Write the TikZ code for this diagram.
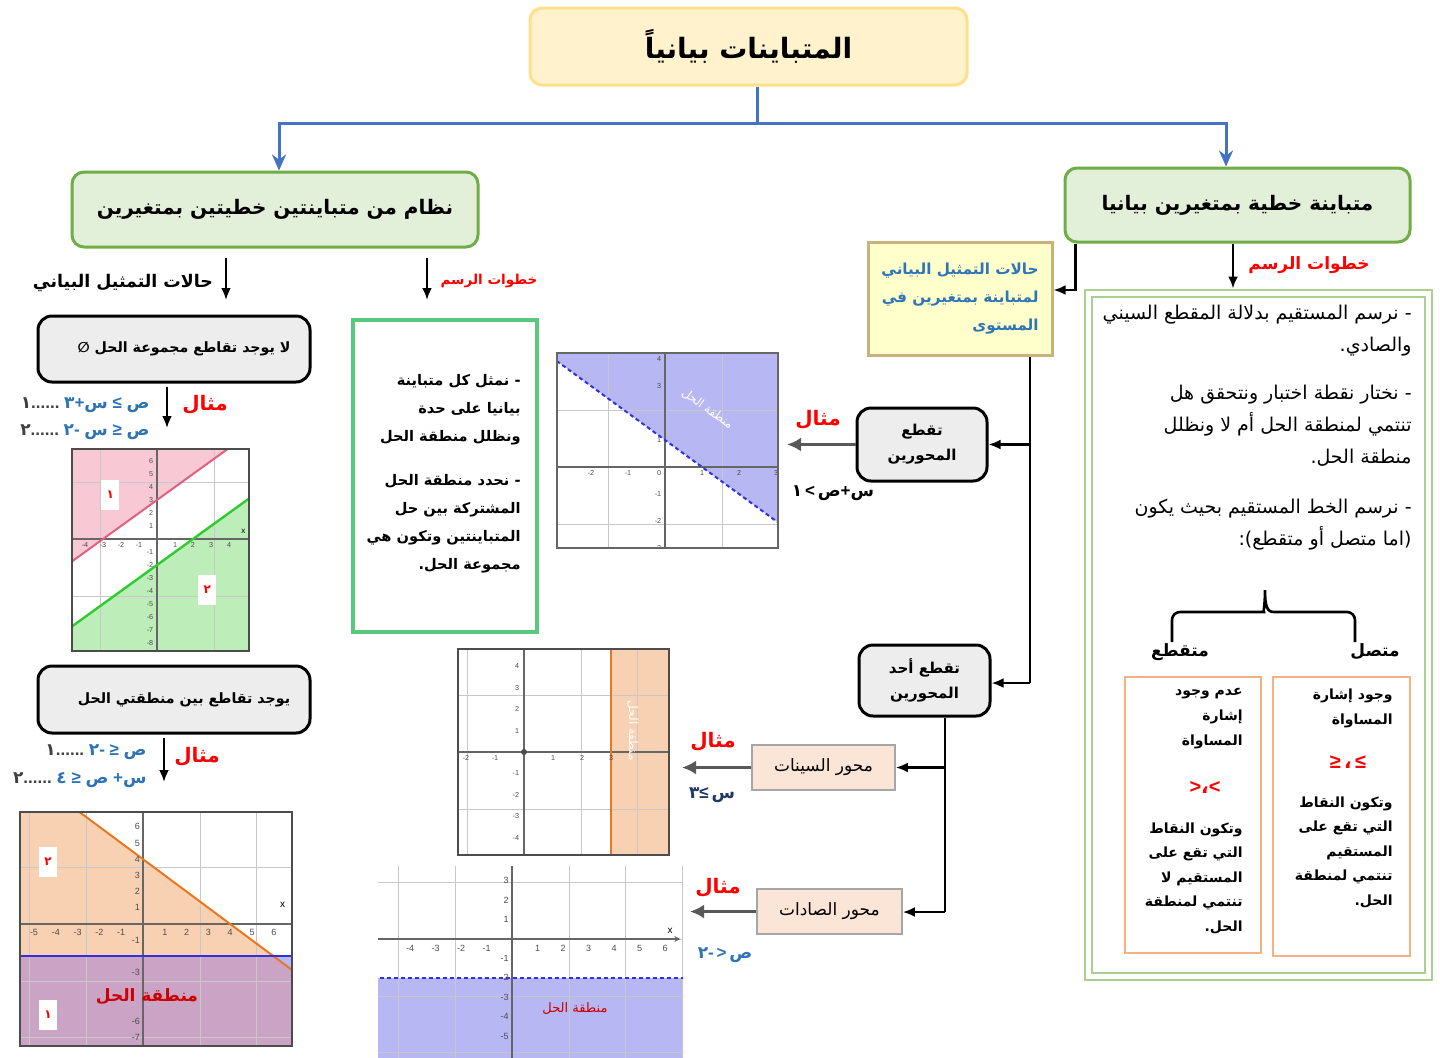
\documentclass[tikz,border=0pt]{standalone}
\usepackage{fontspec}
\setmainfont{Liberation Sans}
\newfontfamily\arfont[Script=Arabic]{DejaVu Sans}
\TeXXeTstate=1
\usetikzlibrary{arrows.meta,calc}

\definecolor{titleFill}{HTML}{FFF2CC}
\definecolor{titleLine}{HTML}{FFE08A}
\definecolor{headFill}{HTML}{E2EFD9}
\definecolor{headLine}{HTML}{70AD47}
\definecolor{linkBlue}{HTML}{4472C4}
\definecolor{noteFill}{HTML}{FFFFCC}
\definecolor{noteLine}{HTML}{C9B27C}
\definecolor{noteText}{HTML}{2E75B6}
\definecolor{stepsLine}{HTML}{A9D08E}
\definecolor{tagLine}{HTML}{F4B183}
\definecolor{midGreen}{HTML}{5BC77C}
\definecolor{caseFill}{HTML}{EDEDED}
\definecolor{axisFill}{HTML}{FBE5D6}
\definecolor{axisLine}{HTML}{A6A6A6}
\definecolor{exRed}{HTML}{FF0000}
\definecolor{eqBlue}{HTML}{2E74B5}
\definecolor{eqDark}{HTML}{203864}
\definecolor{dotGray}{HTML}{404040}
\definecolor{arrowGray}{HTML}{595959}
\definecolor{pinkFill}{HTML}{F8C8D4}
\definecolor{pinkLine}{HTML}{E0607E}
\definecolor{greenFill}{HTML}{BDEDB8}
\definecolor{greenLine}{HTML}{2ECC2E}
\definecolor{orFill}{HTML}{F8D0B2}
\definecolor{orLine}{HTML}{E87722}
\definecolor{mauveFill}{HTML}{CBA3C4}
\definecolor{lavFill}{HTML}{B7B7F4}
\definecolor{dashBlue}{HTML}{3030E0}
\definecolor{gridGray}{HTML}{C8C8C8}

\newcommand\rl[1]{\beginR#1\endR}
\newcommand\tk[1]{\mbox{\arfont#1}}

\begin{document}
\begin{tikzpicture}[x=0.5pt,y=-0.5pt,
  every node/.style={inner sep=0pt},
  titlebox/.style={draw=titleLine, line width=1.5pt, fill=titleFill, rounded corners=6pt,
    minimum width=218.5pt, minimum height=38.5pt, font={\arfont\bfseries\fontsize{14}{17}\selectfont}},
  headbox/.style={draw=headLine, line width=1.5pt, fill=headFill, rounded corners=6pt,
    font={\arfont\bfseries\fontsize{10}{12}\selectfont}},
  casebox/.style={draw=black, line width=1.5pt, fill=caseFill, rounded corners=7pt,
    align=center, font={\arfont\bfseries\fontsize{7.5}{12.5}\selectfont}},
  axisbox/.style={draw=axisLine, line width=0.8pt, fill=axisFill,
    font={\arfont\fontsize{8.5}{10}\selectfont}},
  linkline/.style={linkBlue, line width=1.5pt},
  linkarrow/.style={linkBlue, line width=1.5pt, -{Stealth[length=8pt,width=7pt]}},
  blkline/.style={black, line width=1.2pt},
  blkarrow/.style={black, line width=1.2pt, -{Latex[length=6pt,width=5pt]}},
  grayarrow/.style={arrowGray, line width=1.8pt, -{Latex[length=7pt,width=7pt]}},
  redtag/.style={text=exRed, font={\arfont\bfseries\fontsize{10}{12}\selectfont}},
  eqtext/.style={font={\bfseries\fontsize{8.5}{10}\selectfont}},
  gridline/.style={gridGray, line width=0.4pt},
  axisline/.style={black!60, line width=0.7pt},
  tick/.style={font={\fontsize{3.6}{4}\selectfont}, text=black!70, inner sep=0.8pt},
  regiontag/.style={fill=white, text=red, font={\arfont\bfseries\fontsize{6}{7}\selectfont},
    minimum width=9pt, minimum height=15pt},
  frameline/.style={draw=black!70, line width=1pt}]

\useasboundingbox (0,0) rectangle (1440,1057);
\fill[white] (0,0) rectangle (1440,1057);

% ---------- top of the tree ----------
\node[titlebox] (title) at (748.5,46.5) {\rl{المتباينات بيانياً}};
\node[headbox, minimum width=203pt, minimum height=37.5pt] (lhead) at (275,209.5)
  {\rl{نظام من متباينتين خطيتين بمتغيرين}};
\node[headbox, minimum width=172.5pt, minimum height=37pt] (rhead) at (1237.5,205)
  {\rl{متباينة خطية بمتغيرين بيانيا}};

\coordinate (hub) at (757,123);
\draw[linkline] (title.south -| hub) -- (hub);
\draw[linkarrow] (hub) -| ([xshift=2pt]lhead.north);
\draw[linkarrow] (hub) -| ([xshift=-5.75pt]rhead.north);

% ---------- right branch: one inequality ----------
\node[draw=stepsLine, double=white, double distance=2.5pt, line width=1pt,
  minimum width=170pt, minimum height=341.5pt] (steps) at (1258.5,635) {};
\draw[blkarrow] ([xshift=-2.25pt]rhead.south) -- ([xshift=-2.25pt,yshift=2pt]rhead.south |- steps.north);
\node[redtag, font={\arfont\bfseries\fontsize{8.5}{10}\selectfont}] (stepsLbl) at (1309,265) {\rl{خطوات الرسم}};

\node[anchor=north east, align=right, font={\arfont\fontsize{9.5}{16}\selectfont}] (stepsTxt) at (1412,305)
  {\rl{- نرسم المستقيم بدلالة المقطع السيني}\\
   \rl{والصادي.}\\[8pt]
   \rl{- نختار نقطة اختبار ونتحقق هل}\\
   \rl{تنتمي لمنطقة الحل أم لا ونظلل}\\
   \rl{منطقة الحل.}\\[9pt]
   \rl{- نرسم الخط المستقيم بحيث يكون}\\
   \rl{(اما متصل أو متقطع):}};

% brace over the two line styles
\draw[line width=1.3pt] (1172,642) [rounded corners=4pt] -- (1172,612) -- (1256,612) [sharp corners]
  .. controls (1263,612) and (1265,606) .. (1265,590)
  .. controls (1265,606) and (1267,612) .. (1274,612) [rounded corners=4pt] -- (1355,612) -- (1355,642);
\node[font={\arfont\bfseries\fontsize{8.5}{10}\selectfont}] (dashLbl) at (1180,652) {\rl{متقطع}};
\node[font={\arfont\bfseries\fontsize{8.5}{10}\selectfont}] (solidLbl) at (1375,652) {\rl{متصل}};

\node[draw=tagLine, line width=1pt, minimum width=68pt, minimum height=138pt] (dashBox) at (1193,815) {};
\node[draw=tagLine, line width=1pt, minimum width=68.5pt, minimum height=139.5pt] (solidBox) at (1341.5,816.5) {};

\node[anchor=north east, align=right, font={\arfont\bfseries\fontsize{7}{12.5}\selectfont}] (dashTop) at (1243,688)
  {\rl{عدم وجود}\\ \rl{إشارة}\\ \rl{المساواة}};
\node[text=exRed, font={\bfseries\fontsize{10}{12}\selectfont}] (dashSym) at (1205,787) {>\tk{،}<};
\node[anchor=north east, align=right, font={\arfont\bfseries\fontsize{7}{12.3}\selectfont}] (dashBot) at (1243,822)
  {\rl{وتكون النقاط}\\ \rl{التي تقع على}\\ \rl{المستقيم لا}\\ \rl{تنتمي لمنطقة}\\ \rl{الحل.}};

\node[anchor=north east, align=right, font={\arfont\bfseries\fontsize{7}{12.5}\selectfont}] (solidTop) at (1393,688)
  {\rl{وجود إشارة}\\ \rl{المساواة}};
\node[text=exRed, font={\bfseries\fontsize{10}{12}\selectfont}] (solidSym) at (1348,762) {≥\,\tk{،}\,≤};
\node[anchor=north east, align=right, font={\arfont\bfseries\fontsize{7}{12.3}\selectfont}] (solidBot) at (1393,796)
  {\rl{وتكون النقاط}\\ \rl{التي تقع على}\\ \rl{المستقيم}\\ \rl{تنتمي لمنطقة}\\ \rl{الحل.}};

% ---------- middle branch: graph cases ----------
\node[draw=noteLine, line width=1.5pt, fill=noteFill, minimum width=92pt, minimum height=56.5pt,
  align=right, text=noteText, font={\arfont\bfseries\fontsize{7.6}{14}\selectfont}] (ybox) at (960,298.5)
  {\rl{حالات التمثيل البياني}\\ \rl{لمتباينة بمتغيرين في}\\ \rl{المستوى}};
\draw[blkarrow] ([xshift=6pt]rhead.south west) |- ([yshift=4.25pt]ybox.east);

\node[casebox, minimum width=65pt, minimum height=36.5pt] (case1) at (922,444.5) {\rl{تقطع}\\ \rl{المحورين}};
\node[casebox, minimum width=65.5pt, minimum height=35.5pt] (case2) at (924.5,680.5) {\rl{تقطع أحد}\\ \rl{المحورين}};

\coordinate (trunk) at (1030,683);
\draw[blkline] (ybox.south -| trunk) -- (trunk);
\draw[blkarrow] (trunk) -- (trunk -| case2.east);
\draw[blkarrow] (case1.east -| trunk) -- (case1.east);

\node[axisbox, minimum width=71.5pt, minimum height=22.5pt] (xaxisBox) at (823.5,767.5) {\rl{محور السينات}};
\node[axisbox, minimum width=72.5pt, minimum height=22.5pt] (yaxisBox) at (829.5,911.5) {\rl{محور الصادات}};

\coordinate (trunkB) at (945,912);
\draw[blkline] (case2.south -| trunkB) -- (trunkB);
\draw[blkarrow] (xaxisBox.east -| trunkB) -- (xaxisBox.east);
\draw[blkarrow] (trunkB) -- (trunkB -| yaxisBox.east);

\coordinate (gCend) at (787,444.5);
\coordinate (gDend) at (682,767.5);
\coordinate (gEend) at (690,911.5);
\draw[grayarrow] (case1.west) -- (gCend);
\draw[grayarrow] (xaxisBox.west) -- (gDend);
\draw[grayarrow] (yaxisBox.west) -- (gEend);

\node[redtag] (exC) at (818,420) {\rl{مثال}};
\node[redtag] (exD) at (713,742) {\rl{مثال}};
\node[redtag] (exE) at (718,888) {\rl{مثال}};
\node[eqtext, text=black] (eqC) at (833,493) {\tk{١}\,<\,\tk{ص}+\tk{س}};
\node[eqtext, text=eqDark] (eqD) at (712,795) {\tk{٣}≤\,\tk{س}};
\node[eqtext, text=eqBlue] (eqE) at (725,955) {\tk{٢}-\,>\,\tk{ص}};

% graph: x + y > 1
\begin{scope}
  \clip (557,353) rectangle (778,548);
  \begin{scope}[shift={(665,467)}, x=18.5pt, y=13.5pt]
    \fill[lavFill] (-4,5) -- (4,-3) -- (4,6) -- (-4,6) -- cycle;
    \draw[gridline] (-4,-4) grid (4,5);
    \draw[axisline] (-4,0) -- (4,0) (0,-4) -- (0,5);
    \draw[dashBlue, line width=1pt, dash pattern=on 2pt off 1.5pt] (-4,5) -- (4,-3);
    \foreach \v in {-3,...,-1,1,2,3} \node[tick, anchor=north] (tCx\v) at (\v,-0.05) {\v};
    \node[tick, anchor=north east] (tC0) at (-0.05,-0.05) {0};
    \foreach \v in {-3,...,-1,1,3,4} \node[tick, anchor=east] (tCy\v) at (-0.05,\v) {\v};
    \node[text=white, rotate=-36, font={\arfont\fontsize{6}{7}\selectfont}] (solC) at (1.15,2.15) {\rl{منطقة الحل}};
  \end{scope}
\end{scope}
\node[draw=black!60, line width=1pt, minimum width=110.5pt, minimum height=97.5pt] (graphC) at (667.5,450.5) {};

% graph: x >= 3
\begin{scope}
  \clip (458,649) rectangle (669,855);
  \begin{scope}[shift={(524,752)}, x=14.5pt, y=10.7pt]
    \fill[orFill] (3,-6) rectangle (6,6);
    \draw[gridline] (-3,-6) grid (6,6);
    \draw[axisline] (-3,0) -- (6,0) (0,-6) -- (0,6);
    \draw[orLine, line width=1.2pt] (3,-6) -- (3,6);
    \fill[black!70] (0,0) circle (1.5pt);
    \foreach \v in {-2,-1,1,2,3} \node[tick, anchor=north] (tDx\v) at (\v,-0.05) {\v};
    \foreach \v in {-4,...,-1,1,2,3,4} \node[tick, anchor=east] (tDy\v) at (-0.1,\v) {\v};
    \node[text=white, rotate=-90, font={\arfont\fontsize{6}{7}\selectfont}] (solD) at (3.75,1.0) {\rl{منطقة الحل}};
  \end{scope}
\end{scope}
\node[draw=black!70, line width=1.2pt, minimum width=105.5pt, minimum height=103pt] (graphD) at (563.5,752) {};

% graph: y < -2
\begin{scope}
  \clip (378,866) rectangle (683,1057);
  \begin{scope}[shift={(512,939)}, x=12.75pt, y=9.7pt]
    \fill[lavFill] (-6,-2) rectangle (7,-7);
    \draw[gridline] (-6,-7) grid (7,4);
    \draw[axisline, -{Stealth[length=3pt,width=3pt]}] (-6,0) -- (6.6,0);
    \draw[axisline] (0,-7) -- (0,4);
    \draw[dashBlue, line width=1pt, dash pattern=on 2pt off 1.5pt] (-6,-2) -- (7,-2);
    \foreach \v in {-4,...,-1,1,2,...,6} \node[tick, anchor=north, font={\fontsize{4.5}{5}\selectfont}] (tEx\v) at (\v,-0.2) {\v};
    \foreach \v in {-5,...,-1,1,2,3} \node[tick, anchor=east, font={\fontsize{4.5}{5}\selectfont}] (tEy\v) at (-0.05,\v) {\v};
    \node[font={\fontsize{5}{6}\selectfont}] (xE) at (6.2,0.4) {x};
    \node[text=red!80!black, font={\arfont\fontsize{6.5}{8}\selectfont}] (solE) at (2.47,-3.56) {\rl{منطقة الحل}};
  \end{scope}
\end{scope}

% ---------- left branch: systems of two inequalities ----------
\coordinate (la1) at (226,258); \coordinate (la2) at (226,300);
\coordinate (lb1) at (427,258); \coordinate (lb2) at (427,300);
\draw[blkarrow] (la1) -- (la2);
\draw[blkarrow] (lb1) -- (lb2);
\node[font={\arfont\bfseries\fontsize{8.7}{10}\selectfont}] (casesLbl) at (123,283) {\rl{حالات التمثيل البياني}};
\node[redtag, font={\arfont\bfseries\fontsize{6.8}{8}\selectfont}] (stepsLbl2) at (489,281) {\rl{خطوات الرسم}};

\node[draw=midGreen, line width=1.8pt, minimum width=92pt, minimum height=156pt] (midBox) at (445,476) {};
\node[anchor=north east, align=right, font={\arfont\bfseries\fontsize{7.3}{14}\selectfont}] (midTxt) at (521,374)
  {\rl{- نمثل كل متباينة}\\ \rl{بيانيا على حدة}\\ \rl{ونظلل منطقة الحل}\\[8pt]
   \rl{- نحدد منطقة الحل}\\ \rl{المشتركة بين حل}\\ \rl{المتباينتين وتكون هي}\\ \rl{مجموعة الحل.}};

\node[casebox, minimum width=136pt, minimum height=33pt, font={\arfont\bfseries\fontsize{7.1}{9}\selectfont}] (caseL1) at (174,349) {\hspace*{10pt}\rl{لا يوجد تقاطع مجموعة الحل ∅}};
\node[casebox, minimum width=136pt, minimum height=33.5pt, font={\arfont\bfseries\fontsize{7.1}{9}\selectfont}] (caseL2) at (174,699.5) {\hspace*{10pt}\rl{يوجد تقاطع بين منطقتي الحل}};

\coordinate (lc1) at (167,428);
\coordinate (ld1) at (164,782);
\draw[blkarrow] ([yshift=-1.5pt]caseL1.south -| lc1) -- (lc1);
\draw[blkarrow] ([yshift=-1.5pt]caseL2.south -| ld1) -- (ld1);

\node[redtag] (exA) at (205,405) {\rl{مثال}};
\node[redtag] (exB) at (197,757) {\rl{مثال}};
\node[eqtext, anchor=east] (eqA1) at (150,405)
  {\textcolor{dotGray}{\tk{١}......}\ \textcolor{eqBlue}{\tk{٣}+\tk{س}\ ≤\ \tk{ص}}};
\node[eqtext, anchor=east] (eqA2) at (150,432)
  {\textcolor{dotGray}{\tk{٢}......}\ \textcolor{eqBlue}{\tk{٢}-\ \tk{س}\ ≥\ \tk{ص}}};
\node[eqtext, anchor=east] (eqB1) at (147,752)
  {\textcolor{dotGray}{\tk{١}......}\ \textcolor{eqBlue}{\tk{٢}-\ ≥\ \tk{ص}}};
\node[eqtext, anchor=east] (eqB2) at (147,780)
  {\textcolor{dotGray}{\tk{٢}......}\ \textcolor{eqBlue}{\tk{٤}\ ≥\ \tk{ص}\ +\tk{س}}};

% graph: y >= x+3 and y <= x-2
\begin{scope}
  \clip (72,449) rectangle (249,651);
  \begin{scope}[shift={(157,539)}, x=9pt, y=6.5pt]
    \fill[pinkFill] (-6,-3) -- (5,8) -- (-6,8) -- cycle;
    \fill[greenFill] (-6,-8) -- (6,4) -- (6,-10) -- (-6,-10) -- cycle;
    \draw[gridline] (-6,-10) grid (6,8);
    \draw[axisline] (-6,0) -- (6,0) (0,-10) -- (0,8);
    \draw[pinkLine, line width=1pt] (-6,-3) -- (5,8);
    \draw[greenLine, line width=1.2pt] (-6,-8) -- (6,4);
    \foreach \v in {-4,...,-1,1,2,3,4} \node[tick, anchor=north] (tAx\v) at (\v,-0.1) {\v};
    \foreach \v in {-8,...,-1,1,2,...,6} \node[tick, anchor=east] (tAy\v) at (-0.1,\v) {\v};
    \node[font={\fontsize{4}{5}\selectfont}] (xA) at (4.8,0.6) {x};
    \node[regiontag] (rA1) at (-2.6,3.4) {١};
    \node[regiontag] (rA2) at (2.8,-3.9) {٢};
  \end{scope}
\end{scope}
\node[draw=black!70, line width=1.2pt, minimum width=88.5pt, minimum height=101pt] (graphA) at (160.5,550) {};

% graph: y <= -2 and x + y <= 4
\begin{scope}
  \clip (20,812) rectangle (292,1046);
  \begin{scope}[shift={(143,924)}, x=10.9pt, y=8.1pt]
    \fill[orFill] (-7,-2) -- (6,-2) -- (-4,8) -- (-7,8) -- cycle;
    \fill[mauveFill] (-7,-2) -- (6,-2) -- (8,-4) -- (8,-9) -- (-7,-9) -- cycle;
    \fill[lavFill] (6,-2) -- (8,-2) -- (8,-4) -- cycle;
    \draw[gridline] (-7,-9) grid (8,8);
    \draw[axisline] (-7,0) -- (8,0) (0,-9) -- (0,8);
    \draw[orLine, line width=1pt] (-4,8) -- (8,-4);
    \draw[dashBlue, line width=1pt] (-7,-2) -- (8,-2);
    \foreach \v in {-5,...,-1,1,2,...,6} \node[tick, anchor=north, font={\fontsize{4.5}{5}\selectfont}] (tBx\v) at (\v,-0.2) {\v};
    \foreach \v in {-7,-6,-3,-1,1,2,...,6} \node[tick, anchor=east, font={\fontsize{4.5}{5}\selectfont}] (tBy\v) at (-0.05,\v) {\v};
    \node[font={\fontsize{5}{6}\selectfont}] (xB) at (6.4,1.2) {x};
    \node[regiontag] (rB2) at (-4.36,3.83) {٢};
    \node[regiontag] (rB1) at (-4.36,-5.6) {١};
    \node[text=red!80!black, font={\arfont\bfseries\fontsize{8.5}{10}\selectfont}] (solB) at (0.18,-4.5) {\rl{منطقة الحل}};
  \end{scope}
\end{scope}
\node[draw=black!70, line width=1.2pt, minimum width=136pt, minimum height=117pt] (graphB) at (156,929) {};

\end{tikzpicture}
\end{document}
